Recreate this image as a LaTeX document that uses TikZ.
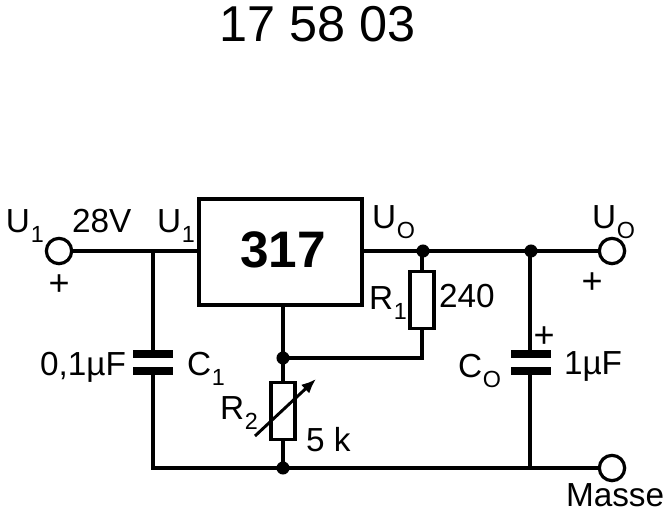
\documentclass[tikz,border=0pt]{standalone}
\usepackage{fontspec}
\usetikzlibrary{arrows.meta}
\setmainfont{Liberation Sans}
\newcommand{\lbl}{\fontsize{25}{29}\selectfont}
\newcommand{\pls}{\fontsize{27}{30}\selectfont}
\newcommand{\subs}[1]{\raisebox{-7.5pt}{\fontsize{17.5}{19}\selectfont\hspace{0.6pt}#1}}
\tikzset{
  wire/.style={line width=2.4pt,line cap=butt,line join=miter},
  txt/.style={anchor=base west,inner sep=0pt,outer sep=0pt,text=black},
  term/.style={circle,draw=black,line width=2.4pt,fill=white,minimum size=19pt,inner sep=0pt},
  dotj/.style={circle,fill=black,minimum size=9.8pt,inner sep=0pt},
  plate/.style={rectangle,fill=black,minimum width=30pt,minimum height=6pt,inner sep=0pt},
  res/.style={rectangle,draw=black,line width=2.4pt,fill=white,minimum width=18pt,minimum height=43pt,inner sep=0pt},
  ic/.style={rectangle,draw=black,line width=3pt,fill=white,minimum width=122pt,minimum height=79.5pt,inner sep=0pt}
}
\begin{document}
\begin{tikzpicture}[x=0.75pt,y=-0.75pt]
\useasboundingbox (0,0) rectangle (664,512);
\node[term] (in) at (59,251) {};
\node[term] (out) at (612,251) {};
\node[term] (gnd) at (612,468) {};
\node[ic] (reg) at (280.5,252) {};
\coordinate (j1) at (153,251);
\coordinate (b1) at (153,468);
\coordinate (b2) at (530,468);
\node[dotj] (j2) at (423,251) {};
\node[dotj] (j3) at (531,251) {};
\node[dotj] (j4) at (283,358) {};
\node[dotj] (j5) at (283,468) {};
\node[plate] (c1a) at (153,354) {};
\node[plate] (c1b) at (153,371) {};
\node[plate] (c2a) at (531,354) {};
\node[plate] (c2b) at (531,371) {};
\node[res] (r1) at (422,300) {};
\node[res] (r2) at (283,411) {};
\coordinate (w1) at (422,358);
\coordinate (a1) at (255,436);
\coordinate (a2) at (316,379);
% wires
\draw[wire] (in.east) -- (reg.west |- in.east);
\draw[wire] (j1) -- (c1a.north);
\draw[wire] (c1b.south) -- (b1) -- (gnd.west);
\draw[wire] (reg.east |- j2.center) -- (out.west);
\draw[wire] (j2.center -| r1.north) -- (r1.north);
\draw[wire] (r1.south) -- (w1) -- (j4.center);
\draw[wire] (reg.south -| j4.center) -- (r2.north);
\draw[wire] (r2.south) -- (j5.center);
\draw[wire] (j3.center -| b2) -- (c2a.north -| b2);
\draw[wire] (c2b.south -| b2) -- (b2);
\draw[line width=2.2pt,-{Latex[length=11pt,width=9pt]}] (a1) -- (a2);
% labels
\node[txt] (title) at (219,41) {\fontsize{37.8}{42}\selectfont 17 58 03};
\node[txt] (t317) at (240,267) {\fontsize{38.5}{42}\selectfont\bfseries 317};
\node[txt] (u1a) at (6,232) {\lbl U\subs{1}};
\node[txt] (v28) at (72,232) {\lbl 28V};
\node[txt] (u1b) at (157,232) {\lbl U\subs{1}};
\node[txt] (plus1) at (48.5,295) {\pls +};
\node[txt] (c1val) at (40,375) {\lbl 0,1µF};
\node[txt] (c1n) at (187,375) {\lbl C\subs{1}};
\node[txt] (r2n) at (220,419) {\lbl R\subs{2}};
\node[txt] (r2v) at (306,451) {\lbl 5 k};
\node[txt] (uoa) at (372,228) {\lbl U\subs{O}};
\node[txt] (uob) at (592,228) {\lbl U\subs{O}};
\node[txt] (plus2) at (581.5,293) {\pls +};
\node[txt] (r1n) at (369,309) {\lbl R\subs{1}};
\node[txt] (r1v) at (439,307) {\lbl 240};
\node[txt] (plus3) at (533.5,347) {\pls +};
\node[txt] (con) at (458,377) {\lbl C\subs{O}};
\node[txt] (cov) at (564,374) {\lbl 1µF};
\node[txt] (masse) at (566,506) {\lbl Masse};
\end{tikzpicture}
\end{document}
